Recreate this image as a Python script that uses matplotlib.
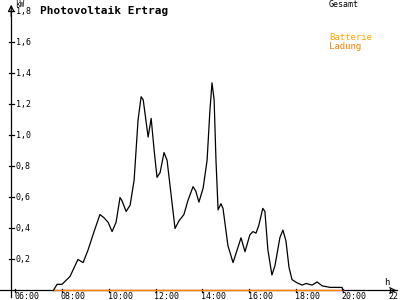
import matplotlib
matplotlib.use("Agg")
import matplotlib.pyplot as plt

# Gesamt (kW) over time of day (h)
hours = [7.63, 7.79, 8.0, 8.34, 8.68, 8.9, 9.11, 9.37, 9.62, 9.79, 9.97, 10.14,
         10.31, 10.48, 10.56, 10.74, 10.91, 11.08, 11.25, 11.38, 11.47, 11.68,
         11.81, 11.94, 12.06, 12.19, 12.36, 12.49, 12.66, 12.83, 13.0, 13.21,
         13.38, 13.6, 13.72, 13.85, 14.03, 14.2, 14.32, 14.41, 14.5, 14.58,
         14.67, 14.79, 14.88, 15.09, 15.31, 15.48, 15.65, 15.82, 16.03, 16.16,
         16.29, 16.41, 16.58, 16.67, 16.8, 16.97, 17.1, 17.31, 17.44, 17.57,
         17.7, 17.83, 18.04, 18.26, 18.43, 18.69, 18.9, 19.12, 19.46, 19.97, 20.0]
gesamt = [0.0, 0.04, 0.04, 0.09, 0.2, 0.18, 0.26, 0.38, 0.49, 0.47, 0.44, 0.38,
          0.44, 0.6, 0.58, 0.51, 0.55, 0.71, 1.1, 1.25, 1.23, 0.99,
          1.11, 0.9, 0.73, 0.76, 0.89, 0.84, 0.62, 0.4, 0.45, 0.49,
          0.58, 0.67, 0.64, 0.57, 0.66, 0.84, 1.16, 1.34, 1.23, 0.84,
          0.52, 0.56, 0.53, 0.29, 0.18, 0.26, 0.34, 0.25, 0.36, 0.38,
          0.37, 0.42, 0.53, 0.51, 0.26, 0.1, 0.16, 0.34, 0.39, 0.32,
          0.15, 0.07, 0.05, 0.035, 0.045, 0.035, 0.055, 0.03, 0.02, 0.02, 0.0]

# Batterie Ladung (kW)
ladung_hours = [7.63, 20.0]
ladung = [0.0, 0.0]

xticks = [6, 8, 10, 12, 14, 16, 18, 20, 22]
xticklabels = ["06:00", "08:00", "10:00", "12:00", "14:00", "16:00", "18:00", "20:00", "22:"]
yticks = [0.2, 0.4, 0.6, 0.8, 1.0, 1.2, 1.4, 1.6, 1.8]
yticklabels = ["0,2", "0,4", "0,6", "0,8", "1,0", "1,2", "1,4", "1,6", "1,8"]

font = "DejaVu Sans Mono"
orange = "#ff8000"

fig = plt.figure(figsize=(4, 3), dpi=100)
ax = fig.add_axes([0, 0, 1, 1])
ax.set_xlim(5.35, 22.444)
ax.set_ylim(-0.0613, 1.874)
ax.axis("off")

# axes with arrows
x_axis = 5.83
ax.plot([5.35, 22.3], [0, 0], color="black", lw=0.9)
ax.annotate("", xy=(22.42, 0), xytext=(22.0, 0),
            arrowprops=dict(arrowstyle="->", color="black", lw=0.9))
ax.plot([x_axis, x_axis], [-0.04, 1.8], color="black", lw=0.9)
ax.annotate("", xy=(x_axis, 1.862), xytext=(x_axis, 1.75),
            arrowprops=dict(arrowstyle="->", color="black", lw=0.9))

for t, lab in zip(xticks, xticklabels):
    ax.plot([t, t], [-0.012, 0.012], color="black", lw=0.9)
    ax.text(t - 0.05, -0.054, lab, fontsize=6, family=font, ha="left", va="baseline")

for t, lab in zip(yticks, yticklabels):
    ax.plot([x_axis - 0.1, x_axis + 0.1], [t, t], color="black", lw=0.9)
    ax.text(x_axis + 0.2, t, lab, fontsize=6, family=font, ha="left", va="center")

ax.text(x_axis + 0.17, 1.874, "kW", fontsize=5.5, family=font, ha="left", va="top")
ax.text(21.9, 0.025, "h", fontsize=6.5, family=font, ha="center", va="bottom")

ax.plot(ladung_hours, ladung, color=orange, lw=1.0)
ax.plot(hours, gesamt, color="black", lw=0.9)

ax.text(7.06, 1.784, "Photovoltaik Ertrag", fontsize=8, family=font,
        fontweight="bold", ha="left", va="baseline")
ax.text(19.4, 1.874, "Gesamt", fontsize=6, family=font, ha="left", va="top")
ax.text(19.4, 1.66, "Batterie", fontsize=6.5, family=font, color="#ffa500",
        ha="left", va="top")
ax.text(19.4, 1.605, "Ladung", fontsize=6.5, family=font, color=orange,
        ha="left", va="top")

fig.savefig("out.png", dpi=100)
